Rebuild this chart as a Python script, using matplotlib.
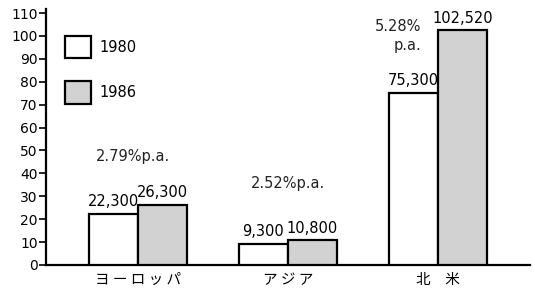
import matplotlib
matplotlib.use("Agg")
import matplotlib.pyplot as plt
from matplotlib.patches import Rectangle

plt.rcParams['font.family'] = ['DejaVu Sans', 'Noto Sans CJK JP']

categories = ["ヨ ー ロ ッ パ", "ア ジ ア", "北　米"]
v1980 = [22.3, 9.3, 75.3]
v1986 = [26.3, 10.8, 102.52]
lab1980 = ["22,300", "9,300", "75,300"]
lab1986 = ["26,300", "10,800", "102,520"]
growth = ["2.79%p.a.", "2.52%p.a.", "5.28%\np.a."]
yticks = [0, 10, 20, 30, 40, 50, 60, 70, 80, 90, 100, 110]
years = ["1980", "1986"]

fig = plt.figure(figsize=(5.35, 2.97), dpi=100)
ax = fig.add_axes([46/535, 32/297, (530-46)/535, 256.5/297])

w = 0.327
x = list(range(len(categories)))
gray = "#d2d2d2"
ax.bar([i - w/2 for i in x], v1980, width=w, color="white", edgecolor="black", linewidth=1.6, zorder=3)
ax.bar([i + w/2 for i in x], v1986, width=w, color=gray, edgecolor="black", linewidth=1.6, zorder=3)

fs = 10.5
for i in x:
    ax.text(i - w/2, v1980[i] + 2.0, lab1980[i], ha="center", va="bottom", fontsize=fs)
    ax.text(i + w/2, v1986[i] + 2.0, lab1986[i], ha="center", va="bottom", fontsize=fs)

ax.text(-0.03, 47.5, growth[0], ha="center", va="center", fontsize=fs, color="#222222")
ax.text(1.0, 35.5, growth[1], ha="center", va="center", fontsize=fs, color="#222222")
ax.text(1.89, 100, growth[2], ha="right", va="center", fontsize=fs, color="#222222", multialignment="right", linespacing=1.4)

ax.set_xlim(-0.613, 2.613)
ax.set_ylim(0, 112)
ax.set_yticks(yticks)
ax.set_yticklabels([str(t) for t in yticks], fontsize=10)
ax.set_xticks(x)
ax.set_xticklabels(categories, fontsize=fs, family=['Noto Sans CJK JP', 'DejaVu Sans'])
ax.tick_params(axis='x', length=0, pad=6)
ax.tick_params(axis='y', length=5, width=1.2, direction='out', pad=1)
for s in ["top", "right"]:
    ax.spines[s].set_visible(False)
ax.spines["left"].set_linewidth(1.6)
ax.spines["bottom"].set_linewidth(1.6)

# legend boxes
def ax_from_px(px, py):
    return ax.transData.inverted().transform(fig.transFigure.transform((px/535, 1 - py/297)))

for (y0, y1), fc, yr in zip([(36, 58), (81, 104)], ["white", gray], years):
    (xa, ya) = ax_from_px(65, y1)
    (xb, yb) = ax_from_px(91, y0)
    ax.add_patch(Rectangle((xa, ya), xb - xa, yb - ya, facecolor=fc, edgecolor="black", linewidth=1.6, zorder=4, clip_on=False))
    (xt, yt) = ax_from_px(99, (y0 + y1) / 2)
    ax.text(xt, yt, yr, ha="left", va="center", fontsize=fs)

fig.savefig("out.png", dpi=100)
